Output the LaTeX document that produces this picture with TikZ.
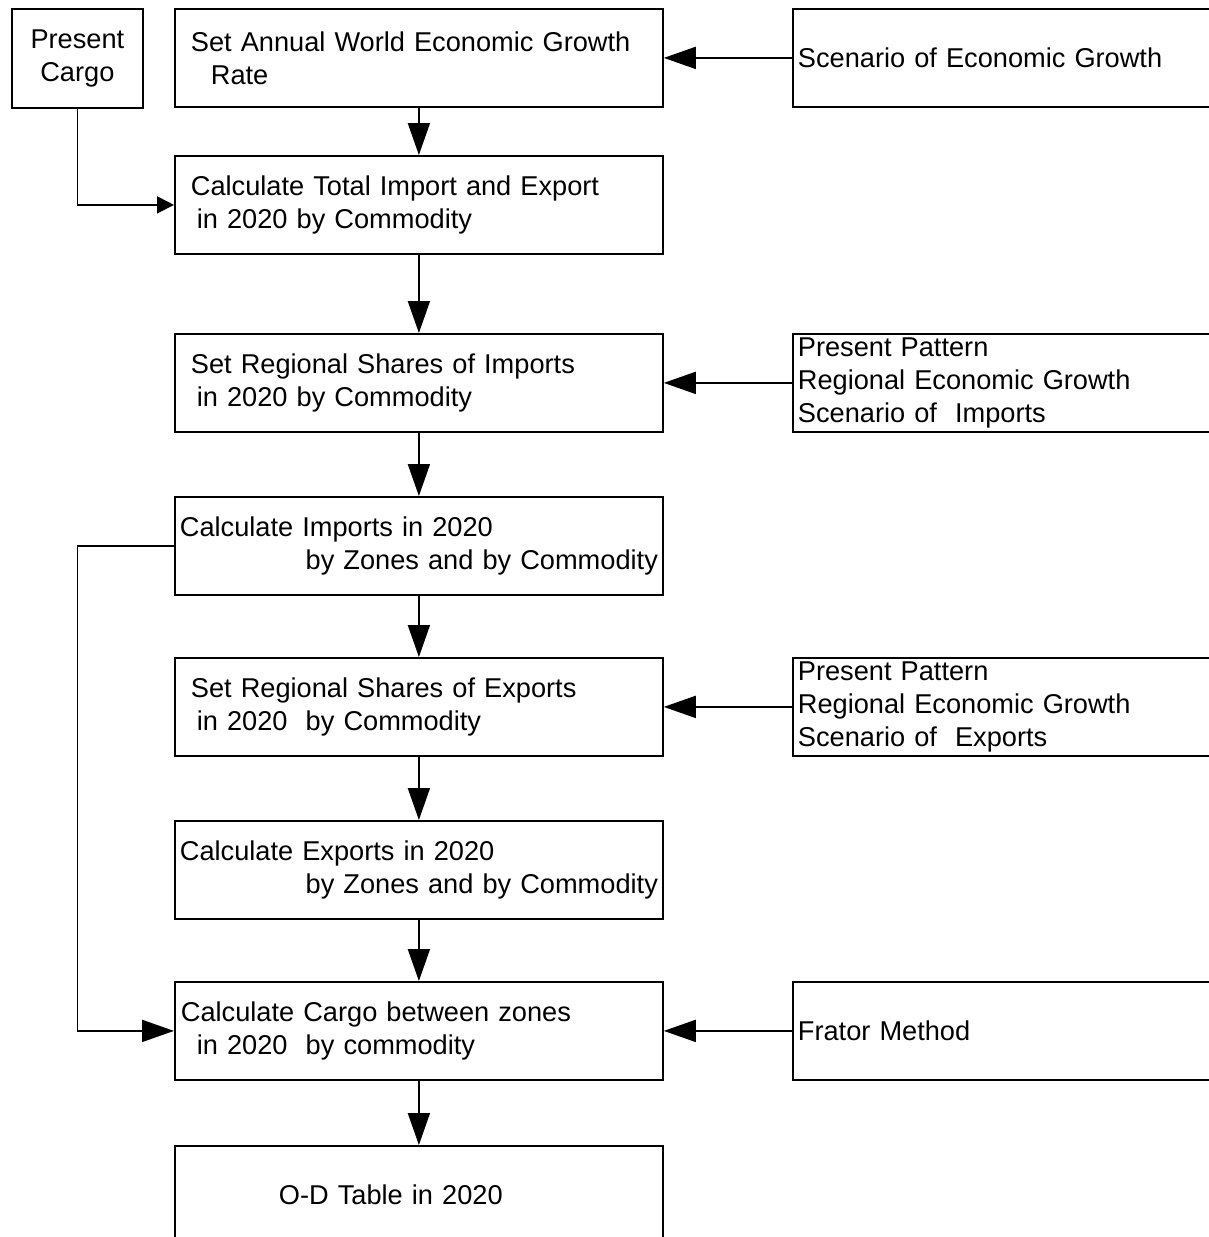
\documentclass[tikz,border=0pt]{standalone}
\usepackage{fontspec}
\setmainfont{Liberation Sans}
\usetikzlibrary{arrows.meta}

\begin{document}
\begin{tikzpicture}[x=1pt, y=-1pt,
  font=\fontsize{27.2}{33}\selectfont,
  box/.style={draw, line width=1.8pt, anchor=north west, inner ysep=2pt, align=left},
  stage/.style={box, minimum width=488pt, minimum height=98pt, inner xsep=16pt, text width=456pt},
  calc/.style={stage, inner xsep=5pt, text width=478pt},
  input/.style={box, minimum width=500pt, minimum height=98pt, inner xsep=5pt, text width=490pt},
  arr/.style={line width=1.8pt, -{Triangle[length=32pt,width=22pt]}},
  smallarr/.style={line width=1.8pt, -{Triangle[length=17pt,width=17pt]}}]
  \useasboundingbox (0,0) rectangle (1209,1237);
  \clip (0,0) rectangle (1209,1237);
  % left input
  \node[box, align=center, minimum width=131pt, minimum height=99pt, inner xsep=2pt] (cargo) at (11,8) {Present\\Cargo};
  % main chain
  \node[stage] (growth) at (174,8) {Set Annual World Economic Growth\\\hspace*{20pt}Rate};
  \node[stage] (total) at (174,155) {Calculate Total Import and Export\\\hspace*{6pt}in 2020 by Commodity};
  \node[stage] (impshare) at (174,333) {Set Regional Shares of Imports\\\hspace*{6pt}in 2020 by Commodity};
  \node[calc] (imports) at (174,496) {Calculate Imports in 2020\\\hspace*{\fill}by Zones and by Commodity};
  \node[stage] (expshare) at (174,657) {Set Regional Shares of Exports\\\hspace*{6pt}in 2020\ \ by Commodity};
  \node[calc] (exports) at (174,820) {Calculate Exports in 2020\\\hspace*{\fill}by Zones and by Commodity};
  \node[calc, inner xsep=6pt, text width=476pt] (cargobtw) at (174,981) {Calculate Cargo between zones\\\hspace*{16pt}in 2020\ \ by commodity};
  \node[stage, inner xsep=104pt, text width=280pt] (odtable) at (174,1145) {O-D Table in 2020};
  % right inputs
  \node[input] (scenario) at (792,8) {Scenario of Economic Growth};
  \node[input] (imppat) at (792,333) {Present Pattern\\Regional Economic Growth\\Scenario of\ \ Imports};
  \node[input] (exppat) at (792,657) {Present Pattern\\Regional Economic Growth\\Scenario of\ \ Exports};
  \node[input] (frator) at (792,981) {Frator Method};
  % connectors
  \draw[arr] (growth) -- (total);
  \draw[arr] (total) -- (impshare);
  \draw[arr] (impshare) -- (imports);
  \draw[arr] (imports) -- (expshare);
  \draw[arr] (expshare) -- (exports);
  \draw[arr] (exports) -- (cargobtw);
  \draw[arr] (cargobtw) -- (odtable);
  \draw[arr] (scenario.west) -- (growth.east);
  \draw[arr] (imppat.west) -- (impshare.east);
  \draw[arr] (exppat.west) -- (expshare.east);
  \draw[arr] (frator.west) -- (cargobtw.east);
  \draw[smallarr] (cargo.south) |- (total.west);
  \draw[arr] (imports.west) -| (cargo.south |- cargobtw.west) -- (cargobtw.west);
\end{tikzpicture}
\end{document}
